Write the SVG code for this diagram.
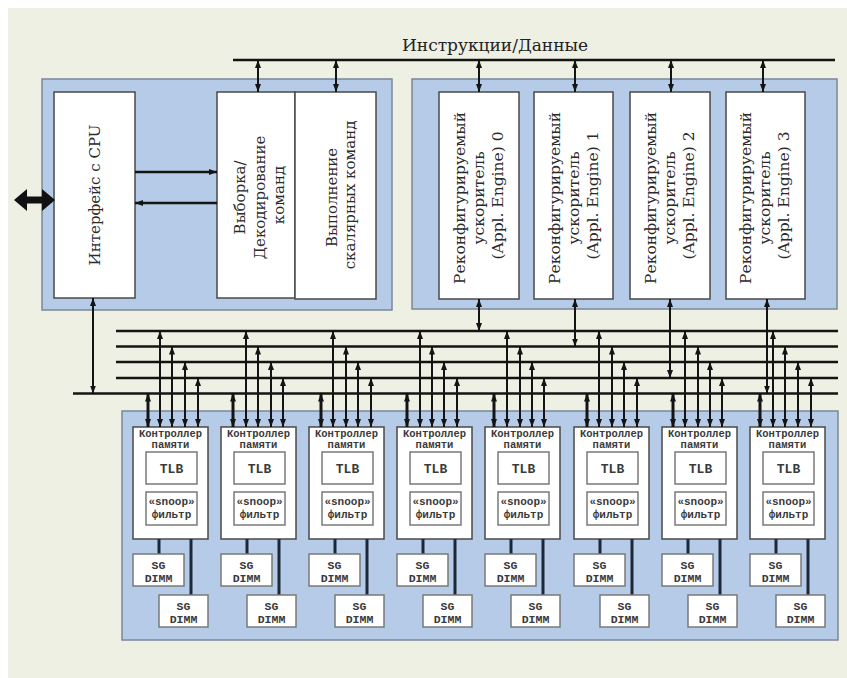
<svg xmlns="http://www.w3.org/2000/svg" width="847" height="678" viewBox="0 0 847 678">
  <defs>
    <style>
      .bg { fill: #eef0e3; }
      .panel { fill: #b5cbe7; stroke: #7b8797; stroke-width: 1.5; }
      .box { fill: #ffffff; stroke: #4a4a4a; stroke-width: 1.5; }
      .sub { fill: #ffffff; stroke: #7a7a7a; stroke-width: 1.5; }
      .bus { stroke: #141414; stroke-width: 2.5; fill: none; }
      .wire { stroke: #141414; stroke-width: 2; fill: none; marker-start: url(#ah); marker-end: url(#ah); }
      .wire.thick { stroke-width: 3; }
      .one { stroke: #141414; stroke-width: 2.5; fill: none; marker-end: url(#ah); }
      .dimm-link { stroke: #1c2737; stroke-width: 3; fill: none; }
      .serif { font-family: "DejaVu Serif", "Liberation Serif", serif; fill: #2a2a2a; }
      .big { font-size: 15px; }
      .eng { font-size: 15.5px; }
      .title { font-size: 17px; fill: #222; }
      .mono { font-family: "Liberation Mono", "DejaVu Sans Mono", monospace; font-weight: bold; fill: #3a3a3a; text-anchor: middle; }
      .ctl { font-size: 10.5px; }
      .tlb { font-size: 13px; }
      .snp { font-size: 11px; }
      .dim { font-size: 11.5px; }
    </style>
    <marker id="ah" viewBox="0 0 8 6" refX="8" refY="3" markerWidth="8" markerHeight="6" markerUnits="userSpaceOnUse" orient="auto-start-reverse">
      <path d="M0,0 L8,3 L0,6 z" fill="#141414"/>
    </marker>
  </defs>

  <!-- page background -->
  <rect x="8" y="8" width="839" height="670" class="bg"/>

  <!-- panels -->
  <rect id="panel-core" x="42" y="79" width="350" height="231" class="panel"/>
  <rect id="panel-engines" x="412" y="79" width="425" height="230" class="panel"/>
  <rect id="panel-memory" x="122" y="411" width="716" height="229" class="panel"/>

  <!-- buses -->
  <g id="buses">
    <line x1="233" y1="60" x2="835" y2="60" class="bus" stroke-width="3"/>
    <line x1="116" y1="331" x2="838" y2="331" class="bus"/>
    <line x1="116" y1="346.5" x2="838" y2="346.5" class="bus"/>
    <line x1="116" y1="362" x2="838" y2="362" class="bus"/>
    <line x1="116" y1="378" x2="838" y2="378" class="bus"/>
    <line x1="73" y1="393.5" x2="838" y2="393.5" class="bus"/>
  </g>
  <text id="bus-label" x="402" y="51" class="serif title">Инструкции/Данные</text>

  <!-- core blocks -->
  <g id="cpu-interface">
    <rect x="54" y="92" width="81" height="206" class="box"/>
    <text class="serif big" text-anchor="middle" transform="translate(100,195) rotate(-90)">Интерфейс с CPU</text>
  </g>
  <g id="fetch-decode">
    <rect x="217" y="92" width="78" height="206" class="box"/>
    <text class="serif big" text-anchor="middle" transform="translate(0,195) rotate(-90)">
      <tspan x="0" y="245">Выборка/</tspan>
      <tspan x="0" y="264.5">Декодирование</tspan>
      <tspan x="0" y="284">команд</tspan>
    </text>
  </g>
  <g id="scalar-exec">
    <rect x="295" y="92" width="81" height="207" class="box"/>
    <text class="serif big" text-anchor="middle" transform="translate(0,195) rotate(-90)">
      <tspan x="0" y="337">Выполнение</tspan>
      <tspan x="0" y="355">скалярных команд</tspan>
    </text>
  </g>

  <!-- application engines -->
  <g id="engine-0">
    <rect x="439" y="92" width="80" height="207" class="box"/>
    <text class="serif eng" text-anchor="middle" transform="translate(0,195.5) rotate(-90)">
      <tspan x="0" y="465">Реконфигурируемый</tspan>
      <tspan x="0" y="484">ускоритель</tspan>
      <tspan x="0" y="503">(Appl. Engine) 0</tspan>
    </text>
  </g>
  <g id="engine-1">
    <rect x="534" y="92" width="79" height="207" class="box"/>
    <text class="serif eng" text-anchor="middle" transform="translate(0,195.5) rotate(-90)">
      <tspan x="0" y="560">Реконфигурируемый</tspan>
      <tspan x="0" y="579">ускоритель</tspan>
      <tspan x="0" y="598">(Appl. Engine) 1</tspan>
    </text>
  </g>
  <g id="engine-2">
    <rect x="630" y="92" width="80" height="207" class="box"/>
    <text class="serif eng" text-anchor="middle" transform="translate(0,195.5) rotate(-90)">
      <tspan x="0" y="656">Реконфигурируемый</tspan>
      <tspan x="0" y="675">ускоритель</tspan>
      <tspan x="0" y="694">(Appl. Engine) 2</tspan>
    </text>
  </g>
  <g id="engine-3">
    <rect x="726" y="92" width="79" height="207" class="box"/>
    <text class="serif eng" text-anchor="middle" transform="translate(0,195.5) rotate(-90)">
      <tspan x="0" y="751">Реконфигурируемый</tspan>
      <tspan x="0" y="770">ускоритель</tspan>
      <tspan x="0" y="789">(Appl. Engine) 3</tspan>
    </text>
  </g>

  <!-- memory controllers: box, TLB, snoop filter, two DIMMs -->
  <g id="mc-0" transform="translate(133,0)">
    <rect x="0" y="427" width="75" height="112" class="box"/>
    <text class="mono ctl" x="37.5" y="436.5">Контроллер</text>
    <text class="mono ctl" x="37.5" y="447.5">памяти</text>
    <rect x="13" y="452" width="51" height="32" class="sub"/>
    <text class="mono tlb" x="38.5" y="473">TLB</text>
    <rect x="13" y="492" width="51" height="33" class="sub"/>
    <text class="mono snp" x="38.5" y="505">«snoop»</text>
    <text class="mono snp" x="38.5" y="518">фильтр</text>
    <line x1="26" y1="539" x2="26" y2="554" class="dimm-link"/>
    <line x1="58" y1="539" x2="58" y2="595" class="dimm-link"/>
    <rect x="0" y="554" width="51" height="32" class="sub"/>
    <text class="mono dim" x="25.5" y="569">SG</text>
    <text class="mono dim" x="25.5" y="582">DIMM</text>
    <rect x="26" y="595" width="49" height="32" class="sub"/>
    <text class="mono dim" x="50.5" y="610">SG</text>
    <text class="mono dim" x="50.5" y="623">DIMM</text>
  </g>
  <g id="mc-1" transform="translate(221,0)">
    <rect x="0" y="427" width="75" height="112" class="box"/>
    <text class="mono ctl" x="37.5" y="436.5">Контроллер</text>
    <text class="mono ctl" x="37.5" y="447.5">памяти</text>
    <rect x="13" y="452" width="51" height="32" class="sub"/>
    <text class="mono tlb" x="38.5" y="473">TLB</text>
    <rect x="13" y="492" width="51" height="33" class="sub"/>
    <text class="mono snp" x="38.5" y="505">«snoop»</text>
    <text class="mono snp" x="38.5" y="518">фильтр</text>
    <line x1="26" y1="539" x2="26" y2="554" class="dimm-link"/>
    <line x1="58" y1="539" x2="58" y2="595" class="dimm-link"/>
    <rect x="0" y="554" width="51" height="32" class="sub"/>
    <text class="mono dim" x="25.5" y="569">SG</text>
    <text class="mono dim" x="25.5" y="582">DIMM</text>
    <rect x="26" y="595" width="49" height="32" class="sub"/>
    <text class="mono dim" x="50.5" y="610">SG</text>
    <text class="mono dim" x="50.5" y="623">DIMM</text>
  </g>
  <g id="mc-2" transform="translate(309,0)">
    <rect x="0" y="427" width="75" height="112" class="box"/>
    <text class="mono ctl" x="37.5" y="436.5">Контроллер</text>
    <text class="mono ctl" x="37.5" y="447.5">памяти</text>
    <rect x="13" y="452" width="51" height="32" class="sub"/>
    <text class="mono tlb" x="38.5" y="473">TLB</text>
    <rect x="13" y="492" width="51" height="33" class="sub"/>
    <text class="mono snp" x="38.5" y="505">«snoop»</text>
    <text class="mono snp" x="38.5" y="518">фильтр</text>
    <line x1="26" y1="539" x2="26" y2="554" class="dimm-link"/>
    <line x1="58" y1="539" x2="58" y2="595" class="dimm-link"/>
    <rect x="0" y="554" width="51" height="32" class="sub"/>
    <text class="mono dim" x="25.5" y="569">SG</text>
    <text class="mono dim" x="25.5" y="582">DIMM</text>
    <rect x="26" y="595" width="49" height="32" class="sub"/>
    <text class="mono dim" x="50.5" y="610">SG</text>
    <text class="mono dim" x="50.5" y="623">DIMM</text>
  </g>
  <g id="mc-3" transform="translate(397,0)">
    <rect x="0" y="427" width="75" height="112" class="box"/>
    <text class="mono ctl" x="37.5" y="436.5">Контроллер</text>
    <text class="mono ctl" x="37.5" y="447.5">памяти</text>
    <rect x="13" y="452" width="51" height="32" class="sub"/>
    <text class="mono tlb" x="38.5" y="473">TLB</text>
    <rect x="13" y="492" width="51" height="33" class="sub"/>
    <text class="mono snp" x="38.5" y="505">«snoop»</text>
    <text class="mono snp" x="38.5" y="518">фильтр</text>
    <line x1="26" y1="539" x2="26" y2="554" class="dimm-link"/>
    <line x1="58" y1="539" x2="58" y2="595" class="dimm-link"/>
    <rect x="0" y="554" width="51" height="32" class="sub"/>
    <text class="mono dim" x="25.5" y="569">SG</text>
    <text class="mono dim" x="25.5" y="582">DIMM</text>
    <rect x="26" y="595" width="49" height="32" class="sub"/>
    <text class="mono dim" x="50.5" y="610">SG</text>
    <text class="mono dim" x="50.5" y="623">DIMM</text>
  </g>
  <g id="mc-4" transform="translate(485,0)">
    <rect x="0" y="427" width="75" height="112" class="box"/>
    <text class="mono ctl" x="37.5" y="436.5">Контроллер</text>
    <text class="mono ctl" x="37.5" y="447.5">памяти</text>
    <rect x="13" y="452" width="51" height="32" class="sub"/>
    <text class="mono tlb" x="38.5" y="473">TLB</text>
    <rect x="13" y="492" width="51" height="33" class="sub"/>
    <text class="mono snp" x="38.5" y="505">«snoop»</text>
    <text class="mono snp" x="38.5" y="518">фильтр</text>
    <line x1="26" y1="539" x2="26" y2="554" class="dimm-link"/>
    <line x1="58" y1="539" x2="58" y2="595" class="dimm-link"/>
    <rect x="0" y="554" width="51" height="32" class="sub"/>
    <text class="mono dim" x="25.5" y="569">SG</text>
    <text class="mono dim" x="25.5" y="582">DIMM</text>
    <rect x="26" y="595" width="49" height="32" class="sub"/>
    <text class="mono dim" x="50.5" y="610">SG</text>
    <text class="mono dim" x="50.5" y="623">DIMM</text>
  </g>
  <g id="mc-5" transform="translate(574,0)">
    <rect x="0" y="427" width="75" height="112" class="box"/>
    <text class="mono ctl" x="37.5" y="436.5">Контроллер</text>
    <text class="mono ctl" x="37.5" y="447.5">памяти</text>
    <rect x="13" y="452" width="51" height="32" class="sub"/>
    <text class="mono tlb" x="38.5" y="473">TLB</text>
    <rect x="13" y="492" width="51" height="33" class="sub"/>
    <text class="mono snp" x="38.5" y="505">«snoop»</text>
    <text class="mono snp" x="38.5" y="518">фильтр</text>
    <line x1="26" y1="539" x2="26" y2="554" class="dimm-link"/>
    <line x1="58" y1="539" x2="58" y2="595" class="dimm-link"/>
    <rect x="0" y="554" width="51" height="32" class="sub"/>
    <text class="mono dim" x="25.5" y="569">SG</text>
    <text class="mono dim" x="25.5" y="582">DIMM</text>
    <rect x="26" y="595" width="49" height="32" class="sub"/>
    <text class="mono dim" x="50.5" y="610">SG</text>
    <text class="mono dim" x="50.5" y="623">DIMM</text>
  </g>
  <g id="mc-6" transform="translate(662,0)">
    <rect x="0" y="427" width="75" height="112" class="box"/>
    <text class="mono ctl" x="37.5" y="436.5">Контроллер</text>
    <text class="mono ctl" x="37.5" y="447.5">памяти</text>
    <rect x="13" y="452" width="51" height="32" class="sub"/>
    <text class="mono tlb" x="38.5" y="473">TLB</text>
    <rect x="13" y="492" width="51" height="33" class="sub"/>
    <text class="mono snp" x="38.5" y="505">«snoop»</text>
    <text class="mono snp" x="38.5" y="518">фильтр</text>
    <line x1="26" y1="539" x2="26" y2="554" class="dimm-link"/>
    <line x1="58" y1="539" x2="58" y2="595" class="dimm-link"/>
    <rect x="0" y="554" width="51" height="32" class="sub"/>
    <text class="mono dim" x="25.5" y="569">SG</text>
    <text class="mono dim" x="25.5" y="582">DIMM</text>
    <rect x="26" y="595" width="49" height="32" class="sub"/>
    <text class="mono dim" x="50.5" y="610">SG</text>
    <text class="mono dim" x="50.5" y="623">DIMM</text>
  </g>
  <g id="mc-7" transform="translate(750,0)">
    <rect x="0" y="427" width="75" height="112" class="box"/>
    <text class="mono ctl" x="37.5" y="436.5">Контроллер</text>
    <text class="mono ctl" x="37.5" y="447.5">памяти</text>
    <rect x="13" y="452" width="51" height="32" class="sub"/>
    <text class="mono tlb" x="38.5" y="473">TLB</text>
    <rect x="13" y="492" width="51" height="33" class="sub"/>
    <text class="mono snp" x="38.5" y="505">«snoop»</text>
    <text class="mono snp" x="38.5" y="518">фильтр</text>
    <line x1="26" y1="539" x2="26" y2="554" class="dimm-link"/>
    <line x1="58" y1="539" x2="58" y2="595" class="dimm-link"/>
    <rect x="0" y="554" width="51" height="32" class="sub"/>
    <text class="mono dim" x="25.5" y="569">SG</text>
    <text class="mono dim" x="25.5" y="582">DIMM</text>
    <rect x="26" y="595" width="49" height="32" class="sub"/>
    <text class="mono dim" x="50.5" y="610">SG</text>
    <text class="mono dim" x="50.5" y="623">DIMM</text>
  </g>

  <!-- connectors -->
  <g id="connectors">
    <!-- host link -->
    <polygon points="14,200 27,189 27,196.5 42,196.5 42,189 55,200 42,211 42,203.5 27,203.5 27,211" fill="#111"/>
    <!-- interface <-> fetch/decode -->
    <line x1="135" y1="172" x2="217" y2="172" class="one"/>
    <line x1="217" y1="203" x2="135" y2="203" class="one"/>
    <!-- instruction/data bus drops -->
    <line x1="258" y1="60" x2="258" y2="92" class="wire"/>
    <line x1="336" y1="60" x2="336" y2="92" class="wire"/>
    <line x1="479" y1="60" x2="479" y2="92" class="wire"/>
    <line x1="575" y1="60" x2="575" y2="92" class="wire"/>
    <line x1="671" y1="60" x2="671" y2="92" class="wire"/>
    <line x1="763" y1="60" x2="763" y2="92" class="wire"/>
    <!-- interface and engines to memory buses -->
    <line x1="93" y1="298" x2="93" y2="393.5" class="wire"/>
    <line x1="479" y1="299" x2="479" y2="331" class="wire"/>
    <line x1="575" y1="299" x2="575" y2="346.5" class="wire"/>
    <line x1="670" y1="299" x2="670" y2="378" class="wire"/>
    <line x1="767" y1="299" x2="767" y2="393.5" class="wire"/>

    <!-- memory bus taps into controllers -->
    <line x1="148" y1="393.5" x2="148" y2="427" class="wire thick"/>
    <line x1="160" y1="331" x2="160" y2="427" class="wire"/>
    <line x1="172" y1="346.5" x2="172" y2="427" class="wire"/>
    <line x1="185" y1="362" x2="185" y2="427" class="wire"/>
    <line x1="198" y1="378" x2="198" y2="427" class="wire"/>

    <line x1="233" y1="393.5" x2="233" y2="427" class="wire thick"/>
    <line x1="246" y1="331" x2="246" y2="427" class="wire"/>
    <line x1="258" y1="346.5" x2="258" y2="427" class="wire"/>
    <line x1="271" y1="362" x2="271" y2="427" class="wire"/>
    <line x1="283" y1="378" x2="283" y2="427" class="wire"/>

    <line x1="321" y1="393.5" x2="321" y2="427" class="wire thick"/>
    <line x1="333" y1="331" x2="333" y2="427" class="wire"/>
    <line x1="346" y1="346.5" x2="346" y2="427" class="wire"/>
    <line x1="358" y1="362" x2="358" y2="427" class="wire"/>
    <line x1="371" y1="378" x2="371" y2="427" class="wire"/>

    <line x1="407" y1="393.5" x2="407" y2="427" class="wire thick"/>
    <line x1="420" y1="331" x2="420" y2="427" class="wire"/>
    <line x1="432" y1="346.5" x2="432" y2="427" class="wire"/>
    <line x1="444" y1="362" x2="444" y2="427" class="wire"/>
    <line x1="457" y1="378" x2="457" y2="427" class="wire"/>

    <line x1="494" y1="393.5" x2="494" y2="427" class="wire thick"/>
    <line x1="507" y1="331" x2="507" y2="427" class="wire"/>
    <line x1="520" y1="346.5" x2="520" y2="427" class="wire"/>
    <line x1="532" y1="362" x2="532" y2="427" class="wire"/>
    <line x1="544" y1="378" x2="544" y2="427" class="wire"/>

    <line x1="587" y1="393.5" x2="587" y2="427" class="wire thick"/>
    <line x1="599" y1="331" x2="599" y2="427" class="wire"/>
    <line x1="612" y1="346.5" x2="612" y2="427" class="wire"/>
    <line x1="624" y1="362" x2="624" y2="427" class="wire"/>
    <line x1="637" y1="378" x2="637" y2="427" class="wire"/>

    <line x1="673" y1="393.5" x2="673" y2="427" class="wire thick"/>
    <line x1="685" y1="331" x2="685" y2="427" class="wire"/>
    <line x1="698" y1="346.5" x2="698" y2="427" class="wire"/>
    <line x1="710" y1="362" x2="710" y2="427" class="wire"/>
    <line x1="722" y1="378" x2="722" y2="427" class="wire"/>

    <line x1="760" y1="393.5" x2="760" y2="427" class="wire thick"/>
    <line x1="773" y1="331" x2="773" y2="427" class="wire"/>
    <line x1="785" y1="346.5" x2="785" y2="427" class="wire"/>
    <line x1="798" y1="362" x2="798" y2="427" class="wire"/>
    <line x1="811" y1="378" x2="811" y2="427" class="wire"/>
  </g>
</svg>
